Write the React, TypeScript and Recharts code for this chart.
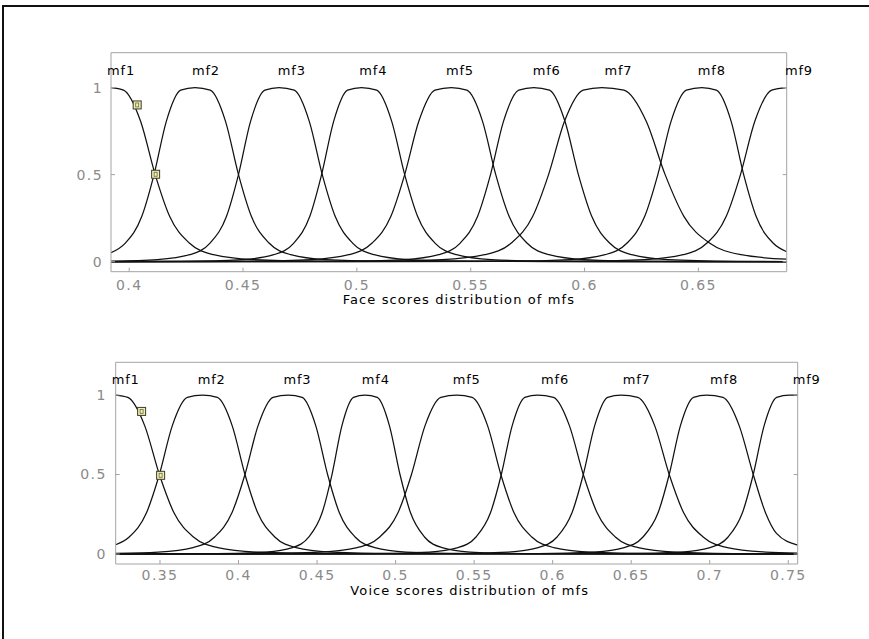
import { ComposedChart, Line, XAxis, YAxis, ReferenceDot } from 'recharts';

type Pt = [number, number];

// membership function names
const mfNames = ['mf1', 'mf2', 'mf3', 'mf4', 'mf5', 'mf6', 'mf7', 'mf8', 'mf9'];

// ---- Face scores panel ----
const faceTicks = [0.4, 0.45, 0.5, 0.55, 0.6, 0.65];
const faceMf1: Pt[] = [[0.392, 1], [0.3975, 0.985], [0.405, 0.806], [0.4114, 0.5], [0.4178, 0.259], [0.4264, 0.107], [0.4371, 0.04], [0.4542, 0.012], [0.4863, 0.0024], [0.6888, 0]];
const faceMf2: Pt[] = [[0.392, 0.052], [0.3983, 0.107], [0.4055, 0.259], [0.4109, 0.5], [0.4163, 0.806], [0.4226, 0.985], [0.4289, 1], [0.4356, 0.985], [0.4423, 0.806], [0.448, 0.5], [0.4537, 0.259], [0.4614, 0.107], [0.471, 0.04], [0.4862, 0.012], [0.5149, 0.0024], [0.6888, 0]];
const faceMf3: Pt[] = [[0.392, 0.003], [0.4124, 0.012], [0.4266, 0.04], [0.4355, 0.107], [0.4427, 0.259], [0.448, 0.5], [0.4533, 0.806], [0.4596, 0.985], [0.4658, 1], [0.4725, 0.985], [0.4791, 0.806], [0.4848, 0.5], [0.4905, 0.259], [0.4981, 0.107], [0.5076, 0.04], [0.5228, 0.012], [0.5513, 0.0024], [0.6888, 0]];
const faceMf4: Pt[] = [[0.392, 0.001], [0.4233, 0.0024], [0.4495, 0.012], [0.4635, 0.04], [0.4723, 0.107], [0.4793, 0.259], [0.4845, 0.5], [0.4898, 0.806], [0.4959, 0.985], [0.502, 1], [0.5087, 0.985], [0.5153, 0.806], [0.521, 0.5], [0.5267, 0.259], [0.5343, 0.107], [0.5438, 0.04], [0.559, 0.012], [0.5875, 0.0024], [0.6888, 0]];
const faceMf5: Pt[] = [[0.392, 0], [0.4493, 0.0024], [0.48, 0.012], [0.4964, 0.04], [0.5067, 0.107], [0.5149, 0.259], [0.521, 0.5], [0.5272, 0.806], [0.5343, 0.985], [0.5415, 1], [0.5483, 0.985], [0.5552, 0.806], [0.561, 0.5], [0.5669, 0.259], [0.5747, 0.107], [0.5844, 0.04], [0.6, 0.012], [0.6293, 0.0024], [0.6888, 0]];
const faceMf6: Pt[] = [[0.392, 0], [0.4922, 0.0024], [0.5207, 0.012], [0.5359, 0.04], [0.5454, 0.107], [0.553, 0.259], [0.5587, 0.5], [0.5644, 0.806], [0.5711, 0.985], [0.5777, 1], [0.5846, 0.985], [0.5914, 0.806], [0.5973, 0.5], [0.6032, 0.259], [0.611, 0.107], [0.6208, 0.04], [0.6365, 0.012], [0.6659, 0.0024], [0.6888, 0.001]];
const faceMf7: Pt[] = [[0.392, 0.001], [0.5023, 0.0024], [0.5374, 0.012], [0.5561, 0.04], [0.5678, 0.107], [0.5772, 0.259], [0.5842, 0.5], [0.5912, 0.806], [0.5994, 0.985], [0.6076, 1], [0.6173, 0.985], [0.6271, 0.806], [0.6354, 0.5], [0.6437, 0.259], [0.6549, 0.107], [0.6688, 0.04], [0.6888, 0.014]];
const faceMf8: Pt[] = [[0.392, 0], [0.5647, 0.0024], [0.5936, 0.012], [0.609, 0.04], [0.6187, 0.107], [0.6264, 0.259], [0.6322, 0.5], [0.638, 0.806], [0.6447, 0.985], [0.6515, 1], [0.6579, 0.985], [0.6644, 0.806], [0.6699, 0.5], [0.6754, 0.259], [0.6828, 0.107], [0.6888, 0.057]];
const faceMf9: Pt[] = [[0.392, 0], [0.595, 0.0024], [0.6265, 0.012], [0.6433, 0.04], [0.6538, 0.107], [0.6622, 0.259], [0.6685, 0.5], [0.6748, 0.806], [0.6822, 0.985], [0.6888, 1]];
const faceLabelX = [0.3964, 0.4337, 0.4714, 0.5072, 0.5453, 0.5834, 0.6149, 0.6559, 0.6942];
const faceMarkers: Pt[] = [[0.4035, 0.9], [0.4116, 0.502]];

// ---- Voice scores panel ----
const voiceTicks = [0.35, 0.4, 0.45, 0.5, 0.55, 0.6, 0.65, 0.7, 0.75];
const voiceMf1: Pt[] = [[0.3218, 1], [0.3295, 0.985], [0.3403, 0.806], [0.3496, 0.5], [0.3589, 0.259], [0.3713, 0.107], [0.3868, 0.04], [0.4116, 0.012], [0.4581, 0.0024], [0.756, 0]];
const voiceMf2: Pt[] = [[0.3218, 0.058], [0.3304, 0.107], [0.3414, 0.259], [0.3496, 0.5], [0.3578, 0.806], [0.3674, 0.985], [0.377, 1], [0.3865, 0.985], [0.396, 0.806], [0.4041, 0.5], [0.4122, 0.259], [0.4231, 0.107], [0.4366, 0.04], [0.4583, 0.012], [0.499, 0.0024], [0.756, 0]];
const voiceMf3: Pt[] = [[0.3218, 0.004], [0.3489, 0.012], [0.371, 0.04], [0.3848, 0.107], [0.3958, 0.259], [0.4041, 0.5], [0.4124, 0.806], [0.422, 0.985], [0.4317, 1], [0.4405, 0.985], [0.4492, 0.806], [0.4567, 0.5], [0.4642, 0.259], [0.4742, 0.107], [0.4867, 0.04], [0.5067, 0.012], [0.5442, 0.0024], [0.756, 0]];
const voiceMf4: Pt[] = [[0.3218, 0.001], [0.386, 0.0024], [0.4175, 0.012], [0.4343, 0.04], [0.4448, 0.107], [0.4532, 0.259], [0.4595, 0.5], [0.4658, 0.806], [0.4732, 0.985], [0.4805, 1], [0.4883, 0.985], [0.4961, 0.806], [0.5028, 0.5], [0.5095, 0.259], [0.5184, 0.107], [0.5296, 0.04], [0.5474, 0.012], [0.5809, 0.0024], [0.756, 0]];
const voiceMf5: Pt[] = [[0.3218, 0], [0.4093, 0.0024], [0.4525, 0.012], [0.4755, 0.04], [0.4899, 0.107], [0.5015, 0.259], [0.5101, 0.5], [0.5187, 0.806], [0.5288, 0.985], [0.5389, 1], [0.5487, 0.985], [0.5586, 0.806], [0.567, 0.5], [0.5754, 0.259], [0.5867, 0.107], [0.6007, 0.04], [0.6232, 0.012], [0.6654, 0.0024], [0.756, 0]];
const voiceMf6: Pt[] = [[0.3218, 0], [0.4868, 0.0024], [0.5213, 0.012], [0.5397, 0.04], [0.5512, 0.107], [0.5604, 0.259], [0.5673, 0.5], [0.5742, 0.806], [0.5823, 0.985], [0.5903, 1], [0.6005, 0.985], [0.6107, 0.806], [0.6195, 0.5], [0.6283, 0.259], [0.6399, 0.107], [0.6545, 0.04], [0.6779, 0.012], [0.7217, 0.0024], [0.756, 0.001]];
const voiceMf7: Pt[] = [[0.3218, 0], [0.5358, 0.0024], [0.5717, 0.012], [0.5908, 0.04], [0.6028, 0.107], [0.6123, 0.259], [0.6195, 0.5], [0.6267, 0.806], [0.635, 0.985], [0.6434, 1], [0.6542, 0.985], [0.665, 0.806], [0.6742, 0.5], [0.6834, 0.259], [0.6958, 0.107], [0.7112, 0.04], [0.7358, 0.012], [0.756, 0.0055]];
const voiceMf8: Pt[] = [[0.3218, 0], [0.5909, 0.0024], [0.6266, 0.012], [0.6456, 0.04], [0.6575, 0.107], [0.6671, 0.259], [0.6742, 0.5], [0.6813, 0.806], [0.6897, 0.985], [0.698, 1], [0.7084, 0.985], [0.7188, 0.806], [0.7277, 0.5], [0.7355, 0.26], [0.7425, 0.13], [0.756, 0.056]];
const voiceMf9: Pt[] = [[0.3218, 0], [0.6475, 0.0024], [0.6819, 0.012], [0.7002, 0.04], [0.7117, 0.107], [0.7208, 0.259], [0.7277, 0.5], [0.7346, 0.806], [0.7426, 0.985], [0.7506, 1], [0.756, 1]];
const voiceLabelX = [0.3282, 0.3829, 0.4375, 0.4874, 0.5453, 0.6015, 0.6535, 0.7091, 0.7617];
const voiceMarkers: Pt[] = [[0.3383, 0.897], [0.3504, 0.495]];

const yTicks = [0, 0.5, 1];
const mfLabelY = 1.1;

const BOX = '#a3a3a3';
const TICK_TEXT = { fill: '#8a8a8a', fontSize: 14, fontFamily: 'DejaVu Sans', letterSpacing: 1.4 };
const fmt = (v: number) => String(v);
const blank = () => '';

const Marker = (p: any) => (
  <g>
    <rect x={p.cx - 4} y={p.cy - 4} width={8} height={8} fill="#f3f0a6" stroke="#3b3b2e" strokeWidth={1} />
    <rect x={p.cx - 1.5} y={p.cy - 2} width={3} height={4} fill="none" stroke="#666" strokeWidth={0.8} />
  </g>
);

const mfText = (name: string) => (p: any) => (
  <text
    x={p.cx}
    y={p.cy}
    textAnchor="middle"
    dominantBaseline="central"
    fontFamily="DejaVu Sans"
    fontSize={13}
    letterSpacing={0.8}
    fill="#000"
  >
    {name}
  </text>
);

interface PanelProps {
  top: number;
  height: number;
  margin: { top: number; right: number; bottom: number; left: number };
  curves: Pt[][];
  xDomain: [number, number];
  yDomain: [number, number];
  xTicks: number[];
  labelX: number[];
  markers: Pt[];
  title: string;
  xTickMargin: number;
  yTickMargin: number;
  titleDx: number;
  titleDy: number;
}

function Panel(props: PanelProps) {
  const { top, height, margin, curves, xDomain, yDomain, xTicks, labelX, markers, title } = props;
  return (
    <div style={{ position: 'absolute', left: 0, top, width: 869, height }}>
      <ComposedChart width={869} height={height} margin={margin}>
        <XAxis
          xAxisId={0}
          type="number"
          dataKey="x"
          domain={xDomain}
          allowDataOverflow
          ticks={xTicks}
          tickFormatter={fmt}
          height={30}
          stroke={BOX}
          tickSize={-4}
          tickMargin={props.xTickMargin}
          tick={TICK_TEXT}
          label={{
            content: (p: any) => {
              const vb = p.viewBox;
              return (
                <text
                  x={vb.x + vb.width / 2 + props.titleDx}
                  y={vb.y + props.titleDy}
                  textAnchor="middle"
                  dominantBaseline="central"
                  fontFamily="DejaVu Sans"
                  fontSize={13}
                  letterSpacing={1.1}
                  fill="#000"
                >
                  {title}
                </text>
              );
            },
          }}
        />
        <XAxis
          xAxisId="top"
          orientation="top"
          type="number"
          domain={xDomain}
          allowDataOverflow
          ticks={xTicks}
          tickFormatter={blank}
          height={1}
          stroke={BOX}
          tickSize={-4}
        />
        <YAxis
          yAxisId={0}
          type="number"
          domain={yDomain}
          allowDataOverflow
          ticks={yTicks}
          tickFormatter={fmt}
          width={40}
          stroke={BOX}
          tickSize={-4}
          tickMargin={props.yTickMargin}
          tick={TICK_TEXT}
        />
        <YAxis
          yAxisId="right"
          orientation="right"
          type="number"
          domain={yDomain}
          allowDataOverflow
          ticks={yTicks}
          tickFormatter={blank}
          width={1}
          stroke={BOX}
          tickSize={-4}
        />
        {curves.map((c, i) => (
          <Line
            key={mfNames[i]}
            xAxisId={0}
            yAxisId={0}
            data={c.map(([x, y]) => ({ x, y }))}
            dataKey="y"
            type="monotone"
            stroke="#111"
            strokeWidth={1.25}
            dot={false}
            activeDot={false}
            isAnimationActive={false}
          />
        ))}
        {markers.map(([x, y], i) => (
          <ReferenceDot key={'m' + i} xAxisId={0} yAxisId={0} x={x} y={y} r={4} ifOverflow="visible" shape={Marker} />
        ))}
        {labelX.map((x, i) => (
          <ReferenceDot
            key={'l' + i}
            xAxisId={0}
            yAxisId={0}
            x={x}
            y={mfLabelY}
            r={1}
            ifOverflow="visible"
            shape={mfText(mfNames[i])}
          />
        ))}
      </ComposedChart>
    </div>
  );
}

export default function App() {
  return (
    <div
      style={{
        position: 'absolute',
        left: 0,
        top: 0,
        width: 869,
        height: 639,
        background: '#fff',
        overflow: 'hidden',
      }}
    >
      <div
        style={{
          position: 'absolute',
          left: 2,
          top: 5,
          width: 900,
          height: 700,
          borderLeft: '2px solid #111',
          borderTop: '2px solid #111',
        }}
      />
      <Panel
        top={0}
        height={310}
        margin={{ top: 51.7, right: 81.3, bottom: 8.3, left: 71 }}
        curves={[faceMf1, faceMf2, faceMf3, faceMf4, faceMf5, faceMf6, faceMf7, faceMf8, faceMf9]}
        xDomain={[0.392, 0.6888]}
        yDomain={[-0.0575, 1.2]}
        xTicks={faceTicks}
        labelX={faceLabelX}
        markers={faceMarkers}
        title="Face scores distribution of mfs"
        xTickMargin={12}
        yTickMargin={12}
        titleDx={10}
        titleDy={28}
      />
      <Panel
        top={310}
        height={300}
        margin={{ top: 51.3, right: 70.3, bottom: 16, left: 75.7 }}
        curves={[voiceMf1, voiceMf2, voiceMf3, voiceMf4, voiceMf5, voiceMf6, voiceMf7, voiceMf8, voiceMf9]}
        xDomain={[0.3218, 0.756]}
        yDomain={[-0.063, 1.206]}
        xTicks={voiceTicks}
        labelX={voiceLabelX}
        markers={voiceMarkers}
        title="Voice scores distribution of mfs"
        xTickMargin={10}
        yTickMargin={13}
        titleDx={13}
        titleDy={26}
      />
    </div>
  );
}
